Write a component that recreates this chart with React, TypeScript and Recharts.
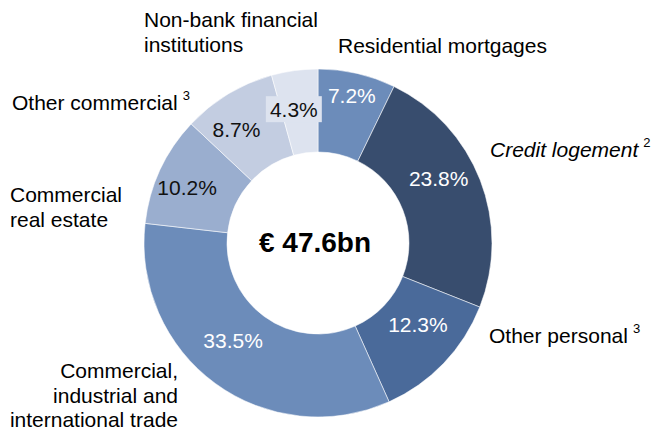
import React from 'react';
import { PieChart, Pie, Cell } from 'recharts';

// loan book split, read clockwise from 12 o'clock
const categoryLines: string[][] = [
  ['Residential mortgages'],
  ['Credit logement'],
  ['Other personal'],
  ['Commercial,', 'industrial and', 'international trade'],
  ['Commercial', 'real estate'],
  ['Other commercial'],
  ['Non-bank financial', 'institutions'],
];
const shares = [7.2, 23.8, 12.3, 33.5, 10.2, 8.7, 4.3];
const footnotes = ['', '2', '3', '', '', '3', ''];
const totalLabel = '€ 47.6bn';

const colors = ['#6c8cba', '#384d6e', '#4a6a9a', '#6c8cba', '#9aaecf', '#c3cde1', '#dde3ef'];
const pctColors = ['#ffffff', '#ffffff', '#ffffff', '#ffffff', '#111111', '#111111', '#111111'];
// radial distance and angle nudge of each % label
const pctRadius = [151, 137, 129, 129, 142, 140, 136];
const pctShift = [0, 7, 4.5, -5, 2, 4.5, 2.5];

// where the category names sit around the ring
const nameLayout = [
  { x: 338, y: 53, anchor: 'start', italic: false },
  { x: 490, y: 157, anchor: 'start', italic: true },
  { x: 489, y: 343, anchor: 'start', italic: false },
  { x: 178, y: 378, anchor: 'end', italic: false },
  { x: 10, y: 202, anchor: 'start', italic: false },
  { x: 12, y: 110, anchor: 'start', italic: false },
  { x: 144, y: 27, anchor: 'start', italic: false },
];

const FONT = '"Liberation Sans", Arial, Helvetica, sans-serif';
const W = 654;
const H = 430;

const data = categoryLines.map((lines, i) => ({ name: lines.join(' '), value: shares[i] }));

const renderPct = (props: any) => {
  const { cx, cy, midAngle, index } = props;
  const a = ((midAngle + pctShift[index]) * Math.PI) / 180;
  const x = cx + pctRadius[index] * Math.cos(a);
  const y = cy - pctRadius[index] * Math.sin(a);
  const label = `${shares[index].toFixed(1)}%`;
  return (
    <g key={`pct-${index}`}>
      {index === 6 && <rect x={x - 28} y={y - 13} width={56} height={26} fill={colors[index]} />}
      <text
        x={x}
        y={y}
        textAnchor="middle"
        dominantBaseline="central"
        fill={pctColors[index]}
        fontSize={21}
        fontFamily={FONT}
      >
        {label}
      </text>
    </g>
  );
};

export default function App() {
  return (
    <div style={{ position: 'absolute', left: 0, top: 0, width: W, height: H, background: '#fff' }}>
      <PieChart width={W} height={H} margin={{ top: 0, right: 0, bottom: 0, left: 0 }}>
        <Pie
          data={data}
          dataKey="value"
          nameKey="name"
          cx={318}
          cy={243}
          outerRadius={174}
          innerRadius={91}
          startAngle={90}
          endAngle={-270}
          stroke="#ffffff"
          strokeOpacity={0.55}
          strokeWidth={1}
          label={renderPct}
          labelLine={false}
          isAnimationActive={false}
        >
          {data.map((d, i) => (
            <Cell key={d.name} fill={colors[i]} />
          ))}
        </Pie>
      </PieChart>
      <svg
        width={W}
        height={H}
        style={{ position: 'absolute', left: 0, top: 0, pointerEvents: 'none' }}
      >
        <text
          x={315}
          y={242}
          textAnchor="middle"
          dominantBaseline="central"
          fontSize={28}
          fontWeight="bold"
          fontFamily={FONT}
          fill="#000"
        >
          {totalLabel}
        </text>
        {categoryLines.map((lines, i) => {
          const l = nameLayout[i];
          return (
            <text
              key={`name-${i}`}
              x={l.x}
              y={l.y}
              textAnchor={l.anchor as any}
              fontSize={21}
              fontFamily={FONT}
              fill="#000"
            >
              {lines.map((line, j) => (
                <tspan key={j} x={l.x} dy={j === 0 ? 0 : 24.5} fontStyle={l.italic ? 'italic' : 'normal'}>
                  {line}
                  {j === lines.length - 1 && footnotes[i] ? (
                    <tspan fontSize={13} dx={5} dy={-10} fontStyle="normal">
                      {footnotes[i]}
                    </tspan>
                  ) : null}
                </tspan>
              ))}
            </text>
          );
        })}
      </svg>
    </div>
  );
}
